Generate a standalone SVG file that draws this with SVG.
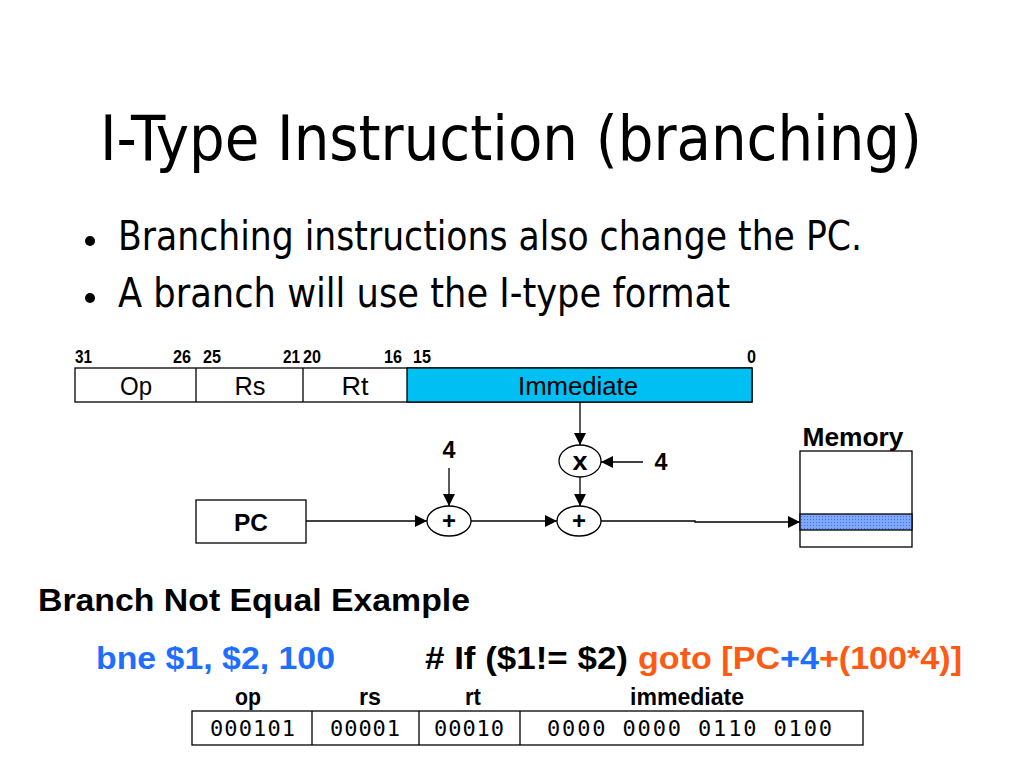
<svg xmlns="http://www.w3.org/2000/svg" width="1024" height="768" viewBox="0 0 1024 768">
<style>
.title{font-family:"DejaVu Sans Condensed","DejaVu Sans",sans-serif;font-size:63px;fill:#000}
.bul{font-family:"DejaVu Sans Condensed","DejaVu Sans",sans-serif;font-size:41px;fill:#000}
.bits{font-family:"Liberation Sans",Arial,sans-serif;font-weight:bold;font-size:18px;fill:#000}
.fld{font-family:"Liberation Sans",Arial,sans-serif;font-size:26px;fill:#000;text-anchor:middle}
.lbl{font-family:"Liberation Sans",Arial,sans-serif;font-weight:bold;fill:#000;text-anchor:middle}
.bx{fill:#fff;stroke:#000;stroke-width:1.3}
.ln{stroke:#000;stroke-width:1.3;fill:none}
.ex{font-family:"Liberation Sans",Arial,sans-serif;font-weight:bold;font-size:32px}
.mono{font-family:"DejaVu Sans Mono","Liberation Mono",monospace;font-size:22px;fill:#000}
.hdr{font-family:"Liberation Sans",Arial,sans-serif;font-weight:bold;font-size:23px;fill:#000;text-anchor:middle}
</style>
<defs>
<marker id="ah" markerUnits="userSpaceOnUse" markerWidth="13" markerHeight="12" refX="12" refY="6" orient="auto">
<path d="M0,0 L12,6 L0,12 z" fill="#000"/>
</marker>
<pattern id="dots" width="3" height="3" patternUnits="userSpaceOnUse">
<rect width="3" height="3" fill="#7fa8f8"/>
<rect x="0" y="0" width="1" height="1" fill="#3f6fe0"/>
</pattern>
</defs>
<rect width="1024" height="768" fill="#fff"/>

<text class="title" x="100" y="160" textLength="822" lengthAdjust="spacingAndGlyphs">I-Type Instruction (branching)</text>

<g id="bullets">
<circle cx="90" cy="241" r="5" fill="#000"/>
<text class="bul" x="118" y="250" textLength="744" lengthAdjust="spacingAndGlyphs">Branching instructions also change the PC.</text>
<circle cx="90" cy="298" r="5" fill="#000"/>
<text class="bul" x="118" y="307" textLength="612" lengthAdjust="spacingAndGlyphs">A branch will use the I-type format</text>
</g>

<g id="format">
<text class="bits" x="75" y="363" textLength="17" lengthAdjust="spacingAndGlyphs">31</text>
<text class="bits" x="173" y="363" textLength="18" lengthAdjust="spacingAndGlyphs">26</text>
<text class="bits" x="203" y="363" textLength="18" lengthAdjust="spacingAndGlyphs">25</text>
<text class="bits" x="283" y="363" textLength="17" lengthAdjust="spacingAndGlyphs">21</text>
<text class="bits" x="303" y="363" textLength="18" lengthAdjust="spacingAndGlyphs">20</text>
<text class="bits" x="384" y="363" textLength="18" lengthAdjust="spacingAndGlyphs">16</text>
<text class="bits" x="413" y="363" textLength="18" lengthAdjust="spacingAndGlyphs">15</text>
<text class="bits" x="747" y="363" textLength="9" lengthAdjust="spacingAndGlyphs">0</text>
<rect class="bx" x="75" y="368" width="677" height="34"/>
<rect x="407" y="368" width="345" height="34" fill="#00bff3" stroke="#000" stroke-width="1.3"/>
<line class="ln" x1="196" y1="368" x2="196" y2="402"/>
<line class="ln" x1="303" y1="368" x2="303" y2="402"/>
<text class="fld" x="136" y="395" textLength="32" lengthAdjust="spacingAndGlyphs">Op</text>
<text class="fld" x="250" y="395" textLength="31" lengthAdjust="spacingAndGlyphs">Rs</text>
<text class="fld" x="355" y="395" textLength="27" lengthAdjust="spacingAndGlyphs">Rt</text>
<text class="fld" x="578" y="395" textLength="120" lengthAdjust="spacingAndGlyphs">Immediate</text>
</g>

<g id="pc">
<rect class="bx" x="196" y="500" width="110" height="43"/>
<text class="lbl" x="251" y="531" font-size="24" textLength="34" lengthAdjust="spacingAndGlyphs">PC</text>
</g>

<g id="add1">
<ellipse class="bx" cx="449" cy="521" rx="22" ry="15"/>
<text class="lbl" x="449" y="529" font-size="24">+</text>
</g>

<g id="add2">
<ellipse class="bx" cx="579" cy="521" rx="22" ry="15"/>
<text class="lbl" x="579" y="529" font-size="24">+</text>
</g>

<g id="mul">
<ellipse class="bx" cx="580" cy="461" rx="21" ry="16"/>
<text class="lbl" x="580" y="470" font-size="26" textLength="15" lengthAdjust="spacingAndGlyphs">x</text>
</g>

<g id="four1">
<text class="lbl" x="449" y="458" font-size="24" textLength="13" lengthAdjust="spacingAndGlyphs">4</text>
</g>
<g id="four2">
<text class="lbl" x="661" y="470" font-size="24" textLength="13" lengthAdjust="spacingAndGlyphs">4</text>
</g>

<g id="memory">
<text class="lbl" x="853" y="446" font-size="25" textLength="101" lengthAdjust="spacingAndGlyphs">Memory</text>
<rect class="bx" x="800" y="451" width="112" height="96"/>
<rect x="800" y="514" width="112" height="16" fill="url(#dots)" stroke="#000" stroke-width="1.3"/>
</g>

<g id="connectors">
<line class="ln" x1="580" y1="402" x2="580" y2="445" marker-end="url(#ah)"/>
<line class="ln" x1="643" y1="462" x2="601" y2="462" marker-end="url(#ah)"/>
<line class="ln" x1="580" y1="477" x2="580" y2="506" marker-end="url(#ah)"/>
<line class="ln" x1="449" y1="468" x2="449" y2="506" marker-end="url(#ah)"/>
<line class="ln" x1="306" y1="521" x2="427" y2="521" marker-end="url(#ah)"/>
<line class="ln" x1="471" y1="521" x2="557" y2="521" marker-end="url(#ah)"/>
<polyline class="ln" points="601,521 695,521 695,522 800,522" marker-end="url(#ah)"/>
</g>

<g id="example">
<text class="ex" x="38" y="611" fill="#000" textLength="432" lengthAdjust="spacingAndGlyphs">Branch Not Equal Example</text>
<text class="ex" x="96" y="669" fill="#1e6fff" textLength="239" lengthAdjust="spacingAndGlyphs">bne $1, $2, 100</text>
<text class="ex" x="425" y="669" fill="#000" textLength="203" lengthAdjust="spacingAndGlyphs"># If ($1!= $2)</text>
<text class="ex" x="638" y="669" fill="#ff5a14" textLength="324" lengthAdjust="spacingAndGlyphs">goto [PC<tspan fill="#1e6fff">+4</tspan>+(100*4)]</text>
</g>

<g id="encoding">
<text class="hdr" x="248" y="705" textLength="26" lengthAdjust="spacingAndGlyphs">op</text>
<text class="hdr" x="370" y="705" textLength="22" lengthAdjust="spacingAndGlyphs">rs</text>
<text class="hdr" x="473" y="705" textLength="16" lengthAdjust="spacingAndGlyphs">rt</text>
<text class="hdr" x="687" y="705" textLength="114" lengthAdjust="spacingAndGlyphs">immediate</text>
<rect class="bx" x="192" y="711" width="671" height="34"/>
<line class="ln" x1="312" y1="711" x2="312" y2="745"/>
<line class="ln" x1="419" y1="711" x2="419" y2="745"/>
<line class="ln" x1="520" y1="711" x2="520" y2="745"/>
<text class="mono" x="210" y="736" textLength="85" lengthAdjust="spacing">000101</text>
<text class="mono" x="330" y="736" textLength="70" lengthAdjust="spacing">00001</text>
<text class="mono" x="434" y="736" textLength="70" lengthAdjust="spacing">00010</text>
<text class="mono" x="547" y="736" textLength="285" lengthAdjust="spacing">0000 0000 0110 0100</text>
</g>
</svg>
